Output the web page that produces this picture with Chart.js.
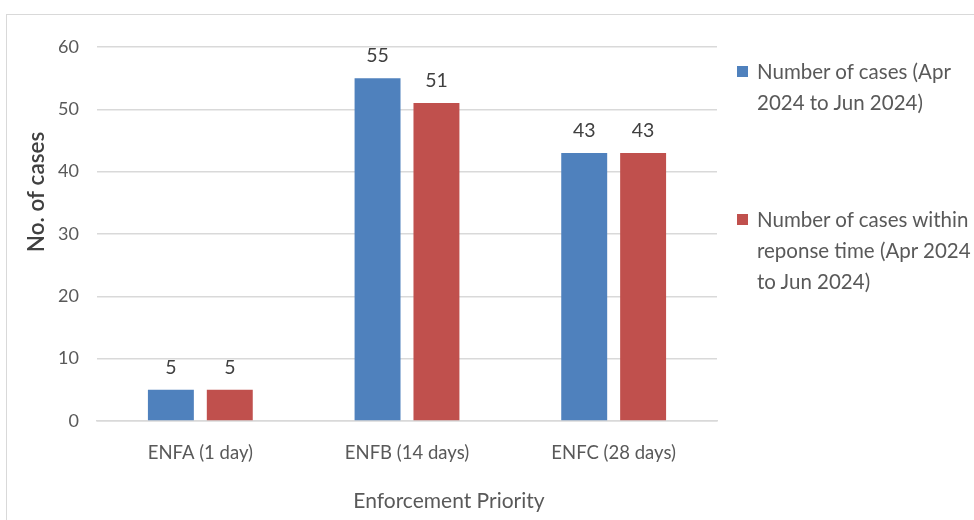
<!DOCTYPE html>
<html>
<head>
<meta charset="utf-8">
<script src="https://cdn.jsdelivr.net/npm/chart.js@4/dist/chart.umd.min.js"></script>
<style>
  html, body { margin: 0; padding: 0; background: #ffffff; }
  #wrap { position: relative; width: 974px; height: 520px; overflow: hidden; background: #fff; }
  #frame { position: absolute; left: 6px; top: 14px; width: 1000px; height: 560px; border: 1.5px solid #d9d9d9; pointer-events: none; }
  #legend { position: absolute; left: 736px; top: 56px; width: 250px; font-family: Lato, "Noto Sans", sans-serif; font-size: 20.5px; color: #595959; line-height: 31px; white-space: nowrap; }
  .item { position: relative; padding-left: 21px; }
  .sw { position: absolute; left: 1px; top: 10px; width: 11px; height: 11px; }
</style>
</head>
<body>
<div id="wrap">
  <canvas id="c" width="974" height="520"></canvas>
  <div id="frame"></div>
  <div id="legend"></div>
</div>
<script>
const categories = ["ENFA (1 day)", "ENFB (14 days)", "ENFC (28 days)"];
const seriesNames = [
  ["Number of cases (Apr", "2024 to Jun 2024)"],
  ["Number of cases within", "reponse time (Apr 2024", "to Jun 2024)"]
];
const totalCases = [5, 55, 43];
const casesWithinResponse = [5, 51, 43];
const colors = ["#4F81BD", "#C0504D"];
const yTicks = [0, 10, 20, 30, 40, 50, 60];
const xTitle = "Enforcement Priority";
const yTitle = "No. of cases";

const FONT = 'Lato, "Noto Sans", sans-serif';
const TEXT = '#595959';

// HTML legend
const leg = document.getElementById('legend');
seriesNames.forEach((lines, i) => {
  const d = document.createElement('div');
  d.className = 'item';
  d.style.marginTop = i === 0 ? '0px' : '86px';
  const sw = document.createElement('span');
  sw.className = 'sw';
  sw.style.background = colors[i];
  d.appendChild(sw);
  lines.forEach((l) => {
    const s = document.createElement('div');
    s.textContent = l;
    d.appendChild(s);
  });
  leg.appendChild(d);
});

const valueLabels = {
  id: 'valueLabels',
  afterDatasetsDraw(chart) {
    const ctx = chart.ctx;
    ctx.save();
    ctx.font = '19.5px ' + FONT;
    ctx.fillStyle = '#404040';
    ctx.textAlign = 'center';
    ctx.textBaseline = 'middle';
    chart.data.datasets.forEach((ds, di) => {
      const meta = chart.getDatasetMeta(di);
      meta.data.forEach((bar, i) => {
        ctx.fillText(String(ds.data[i]), bar.x, bar.y - 22);
      });
    });
    ctx.restore();
  }
};

const axisTitles = {
  id: 'axisTitles',
  afterDraw(chart) {
    const ctx = chart.ctx;
    ctx.save();
    ctx.fillStyle = TEXT;
    ctx.textAlign = 'center';
    ctx.textBaseline = 'middle';
    ctx.font = '21px ' + FONT;
    ctx.fillText(xTitle, 449, 501);
    ctx.translate(37, 192);
    ctx.rotate(-Math.PI / 2);
    ctx.fillStyle = '#404040';
    ctx.font = '600 22.5px ' + FONT;
    ctx.fillText(yTitle, 0, 0);
    ctx.restore();
  }
};

new Chart(document.getElementById('c'), {
  type: 'bar',
  data: {
    labels: categories,
    datasets: [
      { label: seriesNames[0].join(' '), data: totalCases, backgroundColor: colors[0] },
      { label: seriesNames[1].join(' '), data: casesWithinResponse, backgroundColor: colors[1] }
    ]
  },
  options: {
    responsive: false,
    animation: false,
    events: [],
    layout: { padding: { left: 0, top: 47, right: 257, bottom: 0 } },
    datasets: { bar: { categoryPercentage: 0.57, barPercentage: 0.78 } },
    plugins: { legend: { display: false }, tooltip: { enabled: false } },
    scales: {
      x: {
        grid: { display: false, drawTicks: false },
        border: { display: true, color: '#d9d9d9', width: 1.5 },
        ticks: { color: TEXT, font: { family: FONT, size: 18.5 }, padding: 21 },
        afterFit(s) { s.height = 99; }
      },
      y: {
        min: 0, max: 60,
        afterBuildTicks(s) { s.ticks = yTicks.map(v => ({ value: v })); },
        grid: { color: '#d9d9d9', lineWidth: 1.5, drawTicks: false },
        border: { display: false },
        ticks: { color: TEXT, font: { family: FONT, size: 18 }, padding: 18 },
        afterFit(s) { s.width = 97; }
      }
    }
  },
  plugins: [valueLabels, axisTitles]
});
</script>
</body>
</html>
